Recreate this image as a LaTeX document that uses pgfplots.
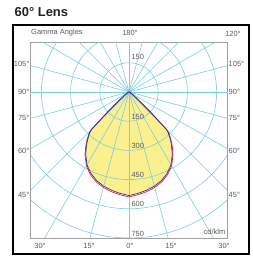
\documentclass[border=0pt]{standalone}
\usepackage{fontspec}
\setmainfont{Liberation Sans}
\usepackage{pgfplots}
\usepackage{pgfplotstable}
\pgfplotsset{compat=1.18}
\definecolor{gridc}{RGB}{124,204,224}
\definecolor{fillc}{RGB}{250,241,142}
\definecolor{labc}{RGB}{90,90,90}
\definecolor{framec}{RGB}{160,160,160}
\definecolor{bluec}{RGB}{45,45,165}
\definecolor{redc}{RGB}{225,30,40}

% gamma (signed, deg) and intensity (cd/klm)
\pgfplotstableread{
g r
-90 0
-70 3
-60 8
-55 20
-50 55
-48 100
-47 140
-46 190
-45 270
-44 290
-42 312
-40 335
-38 355
-35 388
-30 432
-25 462
-20 485
-15 501
-10 513
-5 523
0 532
5 523
10 513
15 501
20 485
25 462
30 432
35 388
38 355
40 335
42 312
44 290
45 270
46 190
47 140
48 100
50 55
55 20
60 8
70 3
90 0
}\bluedata

\pgfplotstableread{
g r
-90 0
-70 3
-60 8
-55 21
-50 58
-48 104
-47 145
-46 196
-45 276
-44 296
-42 318
-40 341
-38 362
-35 394
-30 438
-25 469
-20 492
-15 508
-10 520
-5 530
0 539
5 530
10 520
15 508
20 492
25 469
30 438
35 394
38 362
40 341
42 318
44 296
45 276
46 196
47 145
48 104
50 58
55 21
60 8
70 3
90 0
}\reddata

\begin{document}
\begin{tikzpicture}
\begin{axis}[
  at={(30.7bp,20bp)}, anchor=south west,
  x=0.1947bp, y=0.1947bp,
  xmin=-505, xmax=505, ymin=-750, ymax=253,
  xtick=\empty, ytick=\empty,
  axis line style={draw=framec, line width=0.8pt},
  clip=true,
]
\addplot[fill=fillc, draw=none] table[x expr={\thisrow{r}*sin(\thisrow{g})}, y expr={-\thisrow{r}*cos(\thisrow{g})}] {\bluedata};
\pgfplotsinvokeforeach{150,300,450,600,750}{
  \draw[gridc, line width=0.6pt] (axis cs:0,0) circle[radius=#1];
}
\pgfplotsinvokeforeach{0,15,...,345}{
  \draw[gridc, line width=0.6pt] (axis cs:0,0) -- (axis cs:{1300*sin(#1)},{-1300*cos(#1)});
}
\addplot[redc, line width=0.7pt] table[x expr={\thisrow{r}*sin(\thisrow{g})}, y expr={-\thisrow{r}*cos(\thisrow{g})}] {\reddata};
\addplot[bluec, line width=0.7pt] table[x expr={\thisrow{r}*sin(\thisrow{g})}, y expr={-\thisrow{r}*cos(\thisrow{g})}] {\bluedata};
\pgfplotsinvokeforeach{150,300,450,600,750}{
  \node[anchor=south west, inner sep=0pt, font=\fontsize{7.5}{8}\selectfont, text=labc] at (axis cs:12,{8-#1}) {#1};
}
\node[anchor=south west, inner sep=0pt, font=\fontsize{7.5}{8}\selectfont, text=labc] at (axis cs:12,165) {150};
\end{axis}

\draw[black, line width=1.2pt] (13bp,4bp) rectangle (249bp,233bp);
\node[anchor=base west, inner sep=0pt, font=\bfseries\fontsize{13}{15}\selectfont, text={rgb,255:red,34;green,34;blue,34}] at (14.5bp,241.5bp) {60° Lens};

\begin{scope}[every node/.style={inner sep=0pt, font=\fontsize{7.5}{8}\selectfont, text=labc}]
\node[anchor=west] at (31bp,225bp) {Gamma Angles};
\node at (130bp,225bp) {180°};
\node at (233bp,224bp) {120°};
\node[anchor=east] at (29.5bp,194bp) {105°};
\node[anchor=east] at (29.5bp,166bp) {90°};
\node[anchor=east] at (29.5bp,140bp) {75°};
\node[anchor=east] at (29.5bp,107.5bp) {60°};
\node[anchor=east] at (29.5bp,63bp) {45°};
\node[anchor=west] at (228.5bp,194bp) {105°};
\node[anchor=west] at (228.5bp,166bp) {90°};
\node[anchor=west] at (228.5bp,140bp) {75°};
\node[anchor=west] at (228.5bp,107.5bp) {60°};
\node[anchor=west] at (228.5bp,63bp) {45°};
\node at (40bp,12bp) {30°};
\node at (89bp,12bp) {15°};
\node at (130bp,12bp) {0°};
\node at (171bp,12bp) {15°};
\node at (224bp,12bp) {30°};
\node[anchor=east] at (225.5bp,26bp) {cd/klm};
\end{scope}
\pgfresetboundingbox
\useasboundingbox (0,0) rectangle (253bp,258bp);
\end{tikzpicture}
\end{document}
